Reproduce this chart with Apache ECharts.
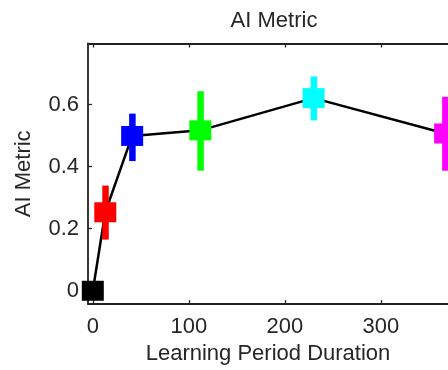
<!DOCTYPE html>
<html>
<head>
<meta charset="utf-8">
<script src="https://cdn.jsdelivr.net/npm/echarts@6/dist/echarts.min.js"></script>
<style>html,body{margin:0;padding:0;background:#fff}#c{width:448px;height:370px}</style>
</head>
<body>
<div id="c"></div>
<script>
const durations = [0, 13, 41, 112, 230, 367];
const metric = [0, 0.253, 0.499, 0.517, 0.621, 0.507];
const errLow = [-0.02, 0.165, 0.418, 0.387, 0.549, 0.387];
const errHigh = [0.02, 0.339, 0.571, 0.643, 0.691, 0.625];
const pointColors = ['#000000', '#ff0000', '#0000ff', '#00ff00', '#00ffff', '#ff00ff'];
const xTicks = [0, 100, 200, 300];
const yTicks = [0, 0.2, 0.4, 0.6];

const txt = '#262626';
const font = 'Liberation Sans, Arial, sans-serif';
const chart = echarts.init(document.getElementById('c'), null, {renderer: 'canvas'});
const axisLine = {show: true, onZero: false, lineStyle: {color: '#222', width: 1.8}};
const tick = (vals) => ({show: true, inside: true, length: 4, customValues: vals, lineStyle: {color: '#222', width: 1.3}});
chart.setOption({
  animation: false,
  title: {
    text: 'AI Metric', left: 269, top: 5, textAlign: 'center',
    textStyle: {fontFamily: font, fontSize: 22, fontWeight: 'normal', color: txt}
  },
  grid: {left: 88, right: -2, top: 43.5, bottom: 64, containLabel: false},
  xAxis: [{
    type: 'value', min: -5, max: 370, position: 'bottom',
    name: 'Learning Period Duration', nameLocation: 'middle', nameGap: 36,
    nameTextStyle: {fontFamily: font, fontSize: 22, color: txt},
    axisLine: axisLine,
    axisTick: tick(xTicks),
    axisLabel: {customValues: xTicks, fontFamily: font, fontSize: 22, color: txt, margin: 12},
    splitLine: {show: false}
  }, {
    type: 'value', min: -5, max: 370, position: 'top',
    axisLine: axisLine,
    axisTick: tick(xTicks),
    axisLabel: {show: false},
    splitLine: {show: false}
  }],
  yAxis: [{
    type: 'value', min: -0.043, max: 0.797, position: 'left',
    name: 'AI Metric', nameLocation: 'middle', nameGap: 53, nameRotate: 90,
    nameTextStyle: {fontFamily: font, fontSize: 22, color: txt},
    axisLine: axisLine,
    axisTick: tick(yTicks),
    axisLabel: {customValues: yTicks, fontFamily: font, fontSize: 22, color: txt, margin: 9,
      formatter: v => (Math.abs(v) < 1e-9 ? '0' : String(+v.toFixed(1)))},
    splitLine: {show: false}
  }],
  series: [{
    type: 'line', xAxisIndex: 0, yAxisIndex: 0, z: 1,
    data: durations.map((d, i) => [d, metric[i]]),
    symbol: 'none', lineStyle: {color: '#000', width: 2.5}
  }, {
    type: 'custom', xAxisIndex: 0, yAxisIndex: 0, z: 3,
    data: durations.map((d, i) => [d, metric[i], errLow[i], errHigh[i]]),
    encode: {x: 0, y: 1},
    renderItem: function (params, api) {
      const c = api.coord([api.value(0), api.value(1)]);
      const lo = api.coord([api.value(0), api.value(2)]);
      const hi = api.coord([api.value(0), api.value(3)]);
      const color = pointColors[params.dataIndex];
      return {
        type: 'group',
        children: [
          {type: 'rect', shape: {x: c[0] - 3, y: hi[1], width: 6.5, height: lo[1] - hi[1]}, style: {fill: color}},
          {type: 'rect', shape: {x: c[0] - 11, y: c[1] - 10, width: 22, height: 20}, style: {fill: color}}
        ]
      };
    }
  }]
});
</script>
</body>
</html>
